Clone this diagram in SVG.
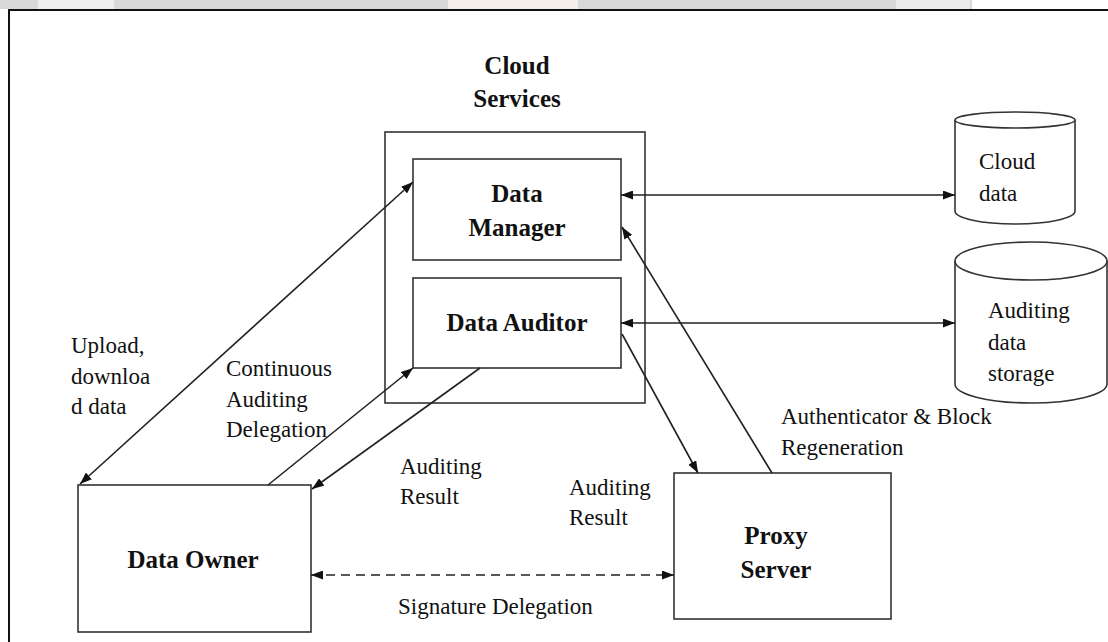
<svg xmlns="http://www.w3.org/2000/svg" width="1108" height="642" viewBox="0 0 1108 642">
<style>
.box{fill:#fff;stroke:#333;stroke-width:1.6}
.ln{stroke:#222;stroke-width:1.6;fill:none}
.b{font-family:"Liberation Serif","Times New Roman",serif;font-weight:bold;font-size:25px;fill:#111;text-anchor:middle}
.t{font-family:"Liberation Serif","Times New Roman",serif;font-size:23px;fill:#111}
</style>
<defs>
<marker id="ah" viewBox="0 0 12 9" refX="12" refY="4.5" markerWidth="12" markerHeight="9" markerUnits="userSpaceOnUse" orient="auto-start-reverse">
<path d="M0,0 L12,4.5 L0,9 z" fill="#111"/>
</marker>
</defs>
<rect x="0" y="0" width="1108" height="642" fill="#fff"/>
<g id="band">
<rect x="0" y="0" width="972" height="9" fill="#d9d9d9"/>
<rect x="38" y="0" width="76" height="9" fill="#eeeeee"/>
<rect x="448" y="0" width="130" height="9" fill="#f6eeea"/>
<rect x="896" y="0" width="74" height="9" fill="#ececec"/>
</g>
<g id="frame">
<path d="M9,642 L9,10 L1108,10" fill="none" stroke="#111" stroke-width="2"/>
</g>
<g id="cloud-services">
<text class="b" x="517" y="74">Cloud</text>
<text class="b" x="517" y="107">Services</text>
<rect class="box" x="385" y="132" width="260" height="271"/>
</g>
<g id="data-manager">
<rect class="box" x="413" y="159" width="208" height="101"/>
<text class="b" x="517" y="202">Data</text>
<text class="b" x="517" y="236">Manager</text>
</g>
<g id="data-auditor">
<rect class="box" x="413" y="278" width="208" height="90"/>
<text class="b" x="517" y="331">Data Auditor</text>
</g>
<g id="cloud-data">
<path class="box" d="M955,120 L955,211 A60,13 0 0 0 1075,211 L1075,120"/>
<ellipse class="box" cx="1015" cy="120" rx="60" ry="8"/>
<text class="t" x="979" y="169">Cloud</text>
<text class="t" x="979" y="201">data</text>
</g>
<g id="auditing-storage">
<path class="box" d="M955,261 L955,384 A76,19 0 0 0 1107,384 L1107,261"/>
<ellipse class="box" cx="1031" cy="261" rx="76" ry="19"/>
<text class="t" x="988" y="318">Auditing</text>
<text class="t" x="988" y="350">data</text>
<text class="t" x="988" y="381">storage</text>
</g>
<g id="data-owner">
<rect class="box" x="78" y="485" width="233" height="147"/>
<text class="b" x="193" y="568">Data Owner</text>
</g>
<g id="proxy-server">
<rect class="box" x="674" y="473" width="217" height="146"/>
<text class="b" x="776" y="544">Proxy</text>
<text class="b" x="776" y="578">Server</text>
</g>
<g id="connectors">
<line class="ln" x1="621" y1="195" x2="955" y2="195" marker-start="url(#ah)" marker-end="url(#ah)"/>
<line class="ln" x1="621" y1="323" x2="955" y2="323" marker-start="url(#ah)" marker-end="url(#ah)"/>
<line class="ln" x1="80" y1="484" x2="413" y2="182" marker-start="url(#ah)" marker-end="url(#ah)"/>
<line class="ln" x1="268" y1="485" x2="413" y2="368" marker-end="url(#ah)"/>
<line class="ln" x1="480" y1="368" x2="312" y2="489" marker-end="url(#ah)"/>
<line class="ln" x1="622" y1="334" x2="698" y2="473" marker-end="url(#ah)"/>
<line class="ln" x1="772" y1="473" x2="622" y2="227" marker-end="url(#ah)"/>
<line class="ln" x1="311" y1="575" x2="674" y2="575" stroke-dasharray="9,6" marker-start="url(#ah)" marker-end="url(#ah)"/>
</g>
<g id="labels">
<text class="t" x="71" y="353">Upload,</text>
<text class="t" x="71" y="384">downloa</text>
<text class="t" x="71" y="414">d data</text>
<text class="t" x="226" y="376">Continuous</text>
<text class="t" x="226" y="407">Auditing</text>
<text class="t" x="226" y="437">Delegation</text>
<text class="t" x="400" y="474">Auditing</text>
<text class="t" x="400" y="504">Result</text>
<text class="t" x="569" y="495">Auditing</text>
<text class="t" x="569" y="525">Result</text>
<text class="t" x="781" y="424">Authenticator &amp; Block</text>
<text class="t" x="781" y="455">Regeneration</text>
<text class="t" x="398" y="614">Signature Delegation</text>
</g>
</svg>
